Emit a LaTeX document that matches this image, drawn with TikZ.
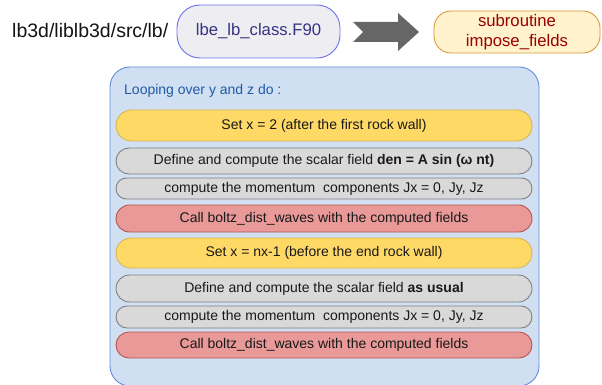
\documentclass[tikz,border=0pt]{standalone}
\usepackage{fontspec}
\setmainfont{Liberation Sans}
\usetikzlibrary{shapes.misc}

\definecolor{pathtext}{RGB}{20,20,20}
\definecolor{filefill}{RGB}{238,238,242}
\definecolor{fileline}{RGB}{110,110,240}
\definecolor{filetext}{RGB}{55,50,130}
\definecolor{arrowgray}{RGB}{102,102,102}
\definecolor{subfill}{RGB}{255,242,204}
\definecolor{subline}{RGB}{215,155,60}
\definecolor{subtext}{RGB}{153,0,0}
\definecolor{loopfill}{RGB}{208,224,242}
\definecolor{loopline}{RGB}{95,140,220}
\definecolor{looptext}{RGB}{31,90,165}
\definecolor{yelfill}{RGB}{255,217,102}
\definecolor{yelline}{RGB}{214,182,86}
\definecolor{grayfill}{RGB}{217,217,217}
\definecolor{grayline}{RGB}{128,128,128}
\definecolor{redfill}{RGB}{234,153,153}
\definecolor{redline}{RGB}{184,84,80}
\definecolor{rowtext}{RGB}{25,25,25}

\tikzset{
  pill/.style={rounded rectangle, draw, line width=0.9pt, inner sep=0pt,
    minimum width=416pt, text=rowtext,
    font=\fontsize{14pt}{16pt}\selectfont},
  yelrow/.style={pill, fill=yelfill, draw=yelline},
  grayrow/.style={pill, fill=grayfill, draw=grayline},
  redrow/.style={pill, fill=redfill, draw=redline},
}

\begin{document}
\begin{tikzpicture}[x=1pt, y=-1pt]
\useasboundingbox (0,0) rectangle (602,385);

% path label and source file
\node[anchor=west, inner sep=0pt, text=pathtext,
      font=\fontsize{19.5pt}{22pt}\selectfont] (path) at (12,31) {lb3d/liblb3d/src/lb/};
\draw[draw=fileline, fill=filefill, line width=0.9pt, rounded corners=23pt]
  (177,5) rectangle (340,58);
\node[text=filetext, font=\fontsize{16.7pt}{19pt}\selectfont] (file) at (258.5,31.5) {lbe\_lb\_class.F90};

% block arrow
\fill[arrowgray] (353,22) coordinate (atail) -- (398,22) -- (398,13) -- (419,32) coordinate (ahead)
  -- (398,51) -- (398,42) -- (353,42) -- (363,32) -- cycle;

% subroutine
\draw[draw=subline, fill=subfill, line width=0.9pt, rounded corners=17pt]
  (434,11) rectangle (600,53);
\node[text=subtext, align=center, font=\fontsize{16.7pt}{20pt}\selectfont] (sub) at (517,32)
  {subroutine\\impose\_fields};

% loop container
\draw[draw=loopline, fill=loopfill, line width=0.9pt, rounded corners=20pt]
  (110,67) rectangle (539,386);
\node[anchor=west, inner sep=0pt, text=looptext,
      font=\fontsize{14pt}{16pt}\selectfont] (loop) at (124,91) {Looping over y and z do :};

% loop body
\node[yelrow, minimum height=31pt] (r1) at (324,125.5) {Set x = 2 (after the first rock wall)};
\node[grayrow, minimum height=26pt] (r2) at (324,161) {Define and compute the scalar field \textbf{den = A sin (ω nt)}};
\node[grayrow, minimum height=21pt] (r3) at (324,188.5) {compute the momentum\ \ components Jx = 0, Jy, Jz};
\node[redrow, minimum height=27pt] (r4) at (324,218.5) {Call boltz\_dist\_waves with the computed fields};
\node[yelrow, minimum height=30pt] (r5) at (324,253) {Set x = nx-1 (before the end rock wall)};
\node[grayrow, minimum height=27pt] (r6) at (324,288.5) {Define and compute the scalar field \textbf{as usual}};
\node[grayrow, minimum height=22pt] (r7) at (324,317) {compute the momentum\ \ components Jx = 0, Jy, Jz};
\node[redrow, minimum height=26pt] (r8) at (324,345) {Call boltz\_dist\_waves with the computed fields};
\end{tikzpicture}
\end{document}
